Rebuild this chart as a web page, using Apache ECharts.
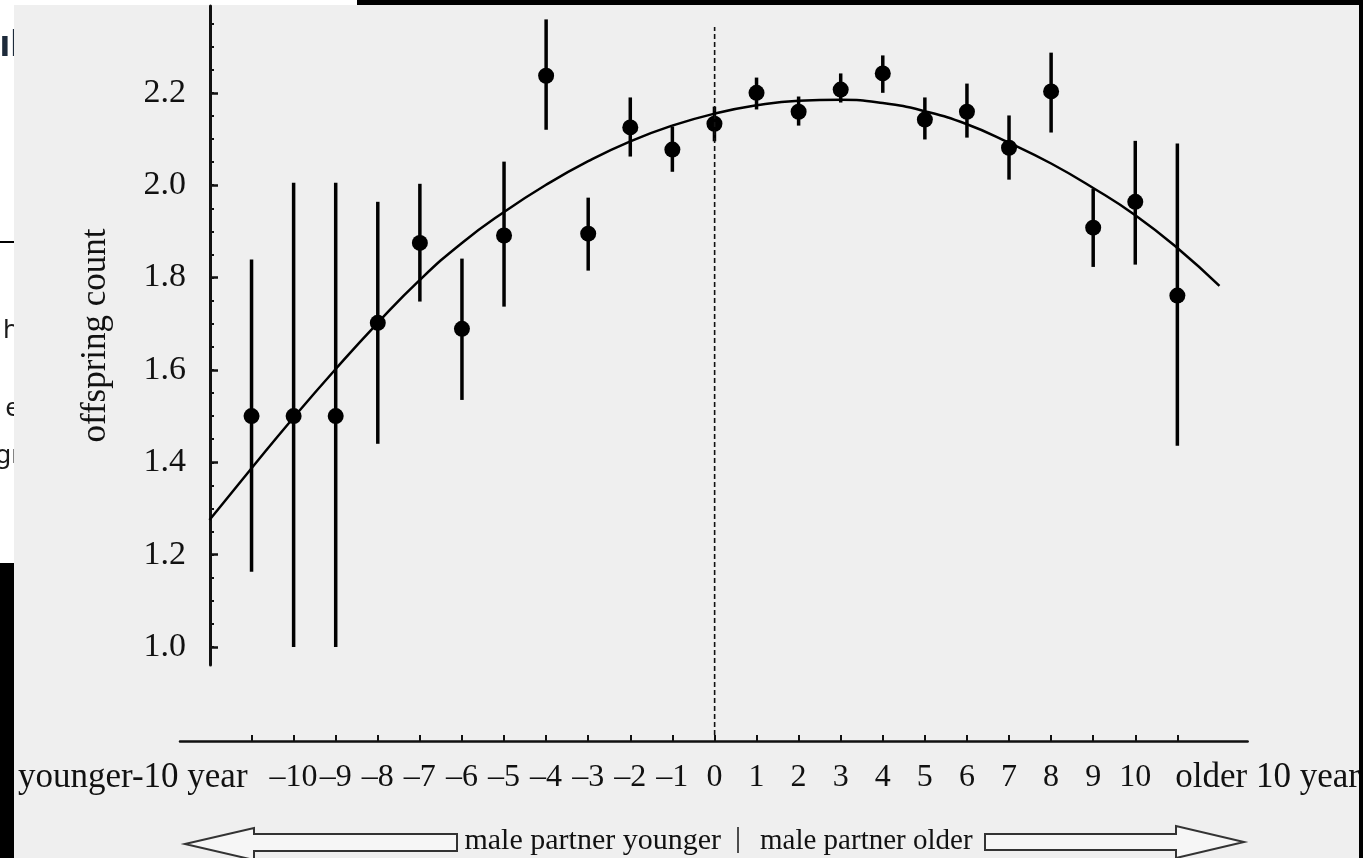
<!DOCTYPE html>
<html><head><meta charset="utf-8">
<script src="https://cdn.jsdelivr.net/npm/echarts@6/dist/echarts.min.js"></script>
<style>html,body{margin:0;padding:0;background:#efefef}#c{width:1363px;height:858px}</style>
</head><body><div id="c"></div>
<script>
// ---- data ----
const xValues = [-11,-10,-9,-8,-7,-6,-5,-4,-3,-2,-1,0,1,2,3,4,5,6,7,8,9,10,11];
const xLabels = ['younger-10 year','–10','–9','–8','–7','–6','–5','–4','–3','–2','–1','0','1','2','3','4','5','6','7','8','9','10','older 10 year'];
const means = [1.50,1.50,1.50,1.702,1.875,1.689,1.891,2.237,1.895,2.125,2.077,2.133,2.200,2.159,2.207,2.242,2.142,2.159,2.081,2.203,1.908,1.964,1.761];
const lower = [1.163,1.00,1.00,1.44,1.748,1.535,1.737,2.12,1.815,2.062,2.029,2.095,2.164,2.129,2.179,2.200,2.099,2.103,2.012,2.114,1.823,1.828,1.436];
const upper = [1.839,2.005,2.005,1.964,2.003,1.841,2.051,2.359,1.973,2.19,2.127,2.17,2.233,2.192,2.242,2.281,2.19,2.22,2.151,2.287,1.992,2.096,2.090];
const fitX = [-12,-11,-10,-9,-8,-7,-6,-5,-4,-3,-2,-1,0,1,2,3,4,5,6,7,8,9,10,11,12];
const fitY = [1.275,1.387,1.497,1.602,1.702,1.795,1.875,1.942,2.001,2.052,2.095,2.129,2.155,2.173,2.183,2.185,2.178,2.160,2.132,2.092,2.047,1.994,1.935,1.864,1.782];
const yMajorTicks = [1.0,1.2,1.4,1.6,1.8,2.0,2.2];
const yMinorTicks = [1.0,1.05,1.1,1.15,1.2,1.25,1.3,1.35,1.4,1.45,1.5,1.55,1.6,1.65,1.7,1.75,1.8,1.85,1.9,1.95,2.0,2.05,2.1,2.15,2.2,2.25,2.3,2.35];
const refLineX = 0;
const yName = 'offspring count';
const bottomLeftText = 'male partner younger';
const bottomRightText = 'male partner older';

const SERIF = '"Liberation Serif","DejaVu Serif",serif';
const X_MIN = -12.70, X_MAX = 12.67, Y_MIN = 0.961, Y_MAX = 2.388;

const chart = echarts.init(document.getElementById('c'), null, {renderer:'canvas'});
const errData = xValues.map((x,i)=>[x, lower[i], upper[i]]);
const ptData = xValues.map((x,i)=>[x, means[i]]);
const fitData = fitX.map((x,i)=>[x, fitY[i]]);

const baseX = {type:'value', gridIndex:0, position:'bottom', offset:76, min:X_MIN, max:X_MAX,
  splitLine:{show:false}, axisLine:{onZero:false}};

chart.setOption({
  backgroundColor:'#efefef',
  animation:false,
  grid:[
    {left:180, right:115, top:6, bottom:193},
    {left:180, right:115, top:27, bottom:123}
  ],
  xAxis:[
    Object.assign({}, baseX, {
      axisLine:{show:true, onZero:false, lineStyle:{color:'#111', width:2.5}},
      axisTick:{show:true, inside:true, length:6, customValues:xValues, lineStyle:{color:'#111', width:2}},
      axisLabel:{show:true, margin:21, customValues:xValues.slice(1,-1), color:'#111', fontFamily:SERIF, fontSize:32,
        formatter:v=>xLabels[xValues.indexOf(Math.round(v))]}
    }),
    Object.assign({}, baseX, {
      axisLine:{show:false, onZero:false}, axisTick:{show:false},
      axisLabel:{show:true, margin:19, align:'right', padding:[0,4,0,0], customValues:[xValues[0]], color:'#111', fontFamily:SERIF, fontSize:35,
        formatter:()=>xLabels[0]}
    }),
    Object.assign({}, baseX, {
      axisLine:{show:false, onZero:false}, axisTick:{show:false},
      axisLabel:{show:true, margin:19, align:'left', padding:[0,0,0,-2], customValues:[xValues[xValues.length-1]], color:'#111', fontFamily:SERIF, fontSize:35,
        formatter:()=>xLabels[xLabels.length-1]}
    }),
    {type:'value', gridIndex:1, min:X_MIN, max:X_MAX, show:false}
  ],
  yAxis:[
    {type:'value', gridIndex:0, position:'left', offset:-30, min:Y_MIN, max:Y_MAX,
      splitLine:{show:false},
      axisLine:{show:true, onZero:false, lineStyle:{color:'#111', width:3}},
      axisTick:{show:true, inside:true, length:8, customValues:yMajorTicks, lineStyle:{color:'#111', width:2.5}},
      axisLabel:{show:true, margin:24, customValues:yMajorTicks, color:'#111', fontFamily:SERIF, fontSize:34,
        formatter:v=>v.toFixed(1)},
      name:yName, nameLocation:'middle', nameGap:97, nameRotate:90,
      nameTextStyle:{color:'#111', fontFamily:SERIF, fontSize:35}
    },
    {type:'value', gridIndex:0, position:'left', offset:-30, min:Y_MIN, max:Y_MAX,
      splitLine:{show:false}, axisLine:{show:false, onZero:false},
      axisTick:{show:true, inside:true, length:4, customValues:yMinorTicks, lineStyle:{color:'#111', width:2}},
      axisLabel:{show:false}
    },
    {type:'value', gridIndex:1, min:0, max:1, show:false}
  ],
  graphic:[
    {type:'rect', z:-12, shape:{x:0,y:0,width:14,height:563}, style:{fill:'#ffffff'}},
    {type:'text', z:-11, x:21, y:46, style:{text:'ıl', align:'right', verticalAlign:'middle', fontSize:36, fontWeight:'bold', fontFamily:'"Noto Sans",sans-serif', fill:'#1d2a3a'}},
    {type:'text', z:-11, x:19, y:331, style:{text:'h', align:'right', verticalAlign:'middle', fontSize:26, fontFamily:'"Noto Sans",sans-serif', fill:'#1a1a1a'}},
    {type:'text', z:-11, x:20, y:409, style:{text:'e', align:'right', verticalAlign:'middle', fontSize:26, fontFamily:'"Noto Sans",sans-serif', fill:'#1a1a1a'}},
    {type:'text', z:-11, x:22, y:456, style:{text:'gr', align:'right', verticalAlign:'middle', fontSize:26, fontFamily:'"Noto Sans",sans-serif', fill:'#1a1a1a'}},
    {type:'rect', z:-11, shape:{x:0,y:241,width:14,height:2}, style:{fill:'#000'}},
    {type:'rect', z:-10, shape:{x:14,y:0,width:1349,height:858}, style:{fill:'#efefef'}},
    {type:'rect', z:-9, shape:{x:0,y:563,width:14,height:295}, style:{fill:'#000'}},
    {type:'rect', z:-9, shape:{x:14,y:0,width:343,height:5}, style:{fill:'#ffffff'}},
    {type:'rect', z:50, shape:{x:357,y:0,width:1006,height:5}, style:{fill:'#000'}},
    {type:'rect', z:50, shape:{x:1359,y:0,width:4,height:858}, style:{fill:'#000'}},
    {type:'polygon', z:5, shape:{points:[[185,844],[254,828],[254,834],[457,834],[457,851],[254,851],[254,860]]},
      style:{fill:'#f6f6f6', stroke:'#333', lineWidth:2}},
    {type:'polygon', z:5, shape:{points:[[985,834],[1176,834],[1176,826],[1244,842],[1176,858],[1176,850],[985,850]]},
      style:{fill:'#f6f6f6', stroke:'#333', lineWidth:2}},
    {type:'text', z:5, x:721, y:841, style:{text:bottomLeftText, align:'right', verticalAlign:'middle', fontSize:30, fontFamily:SERIF, fill:'#111'}},
    {type:'text', z:5, x:738, y:839, style:{text:'|', align:'center', verticalAlign:'middle', fontSize:30, fontFamily:SERIF, fill:'#111'}},
    {type:'text', z:5, x:760, y:841, style:{text:bottomRightText, align:'left', verticalAlign:'middle', fontSize:29, fontFamily:SERIF, fill:'#111'}}
  ],
  series:[
    {type:'line', xAxisIndex:3, yAxisIndex:2, data:[[refLineX,0],[refLineX,1]], symbol:'none', silent:true,
      lineStyle:{color:'#111', width:1.6, type:[5,3]}},
    {type:'line', xAxisIndex:0, yAxisIndex:0, data:fitData, smooth:true, symbol:'none', clip:false,
      lineStyle:{color:'#000', width:2.5}},
    {type:'custom', xAxisIndex:0, yAxisIndex:0, data:errData,
      encode:{x:0, y:[1,2]},
      renderItem:(params, api)=>{
        const p1 = api.coord([api.value(0), api.value(1)]);
        const p2 = api.coord([api.value(0), api.value(2)]);
        return {type:'line', shape:{x1:p1[0], y1:p1[1], x2:p2[0], y2:p2[1]}, style:{stroke:'#000', lineWidth:3.5}};
      }},
    {type:'scatter', xAxisIndex:0, yAxisIndex:0, data:ptData, symbol:'circle', symbolSize:16,
      itemStyle:{color:'#000', opacity:1}}
  ]
});
</script></body></html>
